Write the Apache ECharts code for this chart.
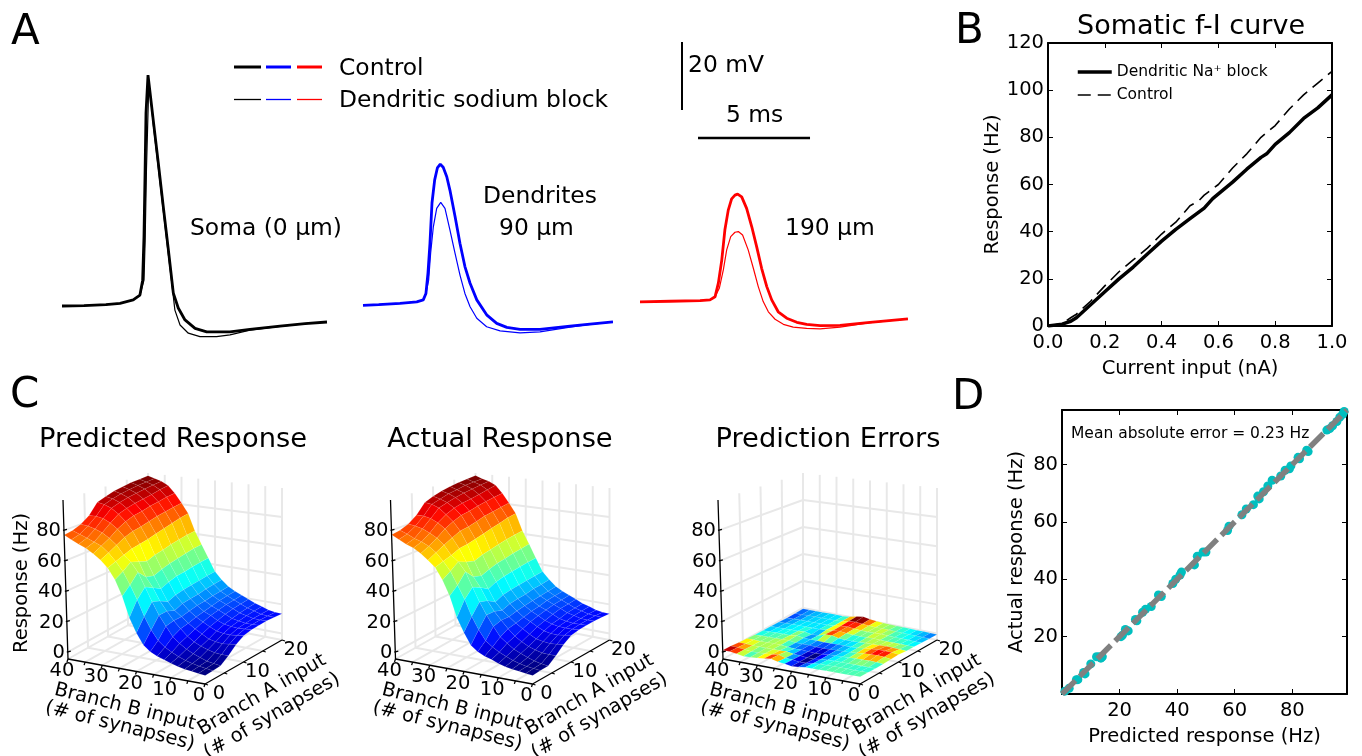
<!DOCTYPE html>
<html>
<head>
<meta charset="utf-8">
<script src="https://cdn.jsdelivr.net/npm/echarts@6/dist/echarts.min.js"></script>
<style>
  html, body { margin: 0; background: #fff; }
  #chart { width: 1362px; height: 756px; }
</style>
</head>
<body>
<div id="chart"></div>
<script>
// panel A traces: [ms, mV]
const somaControl = [[0,-65],[0.98,-64.9],[1.96,-64.6],[2.59,-64.2],[3.18,-63.2],[3.48,-61.8],[3.6,-57.4],[3.66,-44.6],[3.71,-25],[3.75,-8.2],[3.84,2.9],[3.93,-2.2],[4.08,-10.7],[4.3,-23],[4.52,-35.7],[4.74,-48],[4.97,-61.2],[5.19,-65.6],[5.49,-69.1],[5.94,-71.6],[6.46,-72.6],[7.5,-72.6],[8.39,-71.9],[9.73,-70.9],[10.85,-70.2],[11.83,-69.7]]
const somaBlock = [[0,-65],[0.98,-64.9],[1.96,-64.6],[2.59,-64.2],[3.18,-63.2],[3.48,-61.8],[3.66,-57.4],[3.71,-46],[3.77,-25],[3.87,-0.9],[3.96,-4],[4.08,-12],[4.3,-24.5],[4.52,-37],[4.74,-49.5],[4.9,-58.2],[5.04,-66.2],[5.27,-70.6],[5.64,-73],[6.16,-74],[6.9,-74],[7.5,-73.5],[8.39,-72.1],[9.73,-71],[10.85,-70.2],[11.83,-69.7]]
const dend90Control = [[0,-64.8],[0.7,-64.6],[1.65,-64.2],[2.4,-63.8],[2.69,-63.2],[2.81,-61.3],[2.9,-55.3],[2.99,-46.5],[3.08,-34.7],[3.2,-27.9],[3.32,-24.4],[3.45,-23.3],[3.58,-24.2],[3.74,-27],[3.88,-30.9],[4.11,-38.7],[4.33,-46.6],[4.55,-53.4],[4.78,-58.3],[5.08,-63.2],[5.52,-67.6],[5.97,-70.1],[6.42,-71.3],[7.01,-71.9],[7.9,-71.9],[9.24,-70.9],[10.13,-70.3],[11.16,-69.7]]
const dend90Block = [[0,-64.8],[0.7,-64.6],[1.65,-64.2],[2.4,-63.8],[2.69,-63.2],[2.81,-61.3],[2.93,-57.4],[3.02,-49.4],[3.14,-41.7],[3.29,-36.3],[3.47,-34.5],[3.66,-36.3],[3.88,-42.6],[4.11,-49.5],[4.33,-55.9],[4.55,-61.3],[4.78,-65.2],[5.08,-68.6],[5.52,-71.1],[6.12,-72.3],[7.01,-72.9],[7.9,-72.6],[9.24,-71.2],[10.13,-70.4],[11.16,-69.7]]
const dend190Control = [[0,-63.8],[1.34,-63.6],[2.68,-63.4],[3.125,-63.2],[3.35,-62.3],[3.5,-58.2],[3.65,-51.5],[3.79,-42.6],[3.94,-36.8],[4.09,-33.5],[4.24,-32.4],[4.36,-32.1],[4.54,-32.9],[4.76,-36.3],[4.99,-41.7],[5.21,-47.6],[5.43,-53.9],[5.66,-59.3],[5.88,-63.2],[6.17,-66.7],[6.55,-68.6],[7,-69.8],[7.44,-70.4],[8.04,-70.8],[8.93,-70.7],[10.27,-69.8],[11.96,-68.8]]
const dend190Block = [[0,-63.8],[1.34,-63.6],[2.68,-63.4],[3.125,-63.2],[3.35,-62.3],[3.54,-59.8],[3.72,-54.4],[3.87,-48.5],[4.05,-44.6],[4.24,-43.3],[4.39,-43.1],[4.58,-44.1],[4.83,-48.5],[5.06,-53.9],[5.28,-59.3],[5.5,-63.7],[5.73,-66.7],[6.03,-68.9],[6.4,-70.4],[6.84,-71.2],[7.44,-71.6],[8.04,-71.7],[8.93,-71.2],[10.27,-69.9],[11.96,-68.8]]
const scaleBarV = [[1.875,12.65],[1.875,-7.35]]
const scaleBarH = [[2.59,-15.6],[7.59,-15.6]]

// panel B
const fiCurrent = [0,0.05,0.08,0.1,0.15,0.2,0.25,0.3,0.35,0.4,0.45,0.5,0.55,0.58,0.6,0.65,0.7,0.75,0.77,0.8,0.85,0.9,0.95,1]
const fiBlock = [0,0.8,2,3.5,9,14.5,20,25,30.5,36,41,45.5,50,54,56,61,66.5,71.5,73,77,82,88,92.5,98]
const fiControlCurrent = [0,0.05,0.08,0.1,0.15,0.2,0.25,0.3,0.35,0.4,0.45,0.5,0.53,0.55,0.6,0.65,0.7,0.75,0.8,0.85,0.9,0.95,1]
const fiControl = [0,1,3.5,5,10.5,17,23,28,33,39,44,51,53,55.5,60,67,73,80,85,92,98,103,108]

// panel C, rows B = 40 to 0 (step 2), columns A = 0 to 20 (step 2)
const predicted = [
  [77,78,80,84,91,93,95,96,97,97.4,98],
  [74.5,76,79.5,84,90,92,93.5,94.5,95.5,96,96.5],
  [72,74,78,83,88,90,91.5,92.5,93.5,94.3,95],
  [70,72,76,80.5,84.5,86.5,88,89,90,91.5,92.5],
  [67,70,73,77,80,82,83,84.5,85.5,86.8,87.5],
  [63.5,66,69,72,74,75,76.5,78,79,80,81],
  [59,61,63,65,66,67,68.5,70,71.5,73,74],
  [52,55,59,57,55,57,58,59.5,60.5,61.5,62],
  [42,47,53,47.5,46,48,49.5,50.5,51.5,52.5,53],
  [29,38,44,41,38,40,41.5,42,43,43.5,44],
  [20,28,35,33,30,32,33,33.5,34,34.7,35],
  [13,20,27,27,25,27,27.5,28,29,29.5,30],
  [9.5,14,20.6,21.6,21.6,22.7,23.7,24.2,25,25.5,26],
  [7.5,10.5,14.5,17,18,19.5,20.5,21.5,22.5,23,23.5],
  [6,8,11,13,15,17,18.5,19.5,20.5,21,21.5],
  [4.5,6,8,10,12.5,14.5,16,17.5,18.5,19,19.5],
  [3.3,4.4,6,8,10,12.5,14.3,15.4,16.4,17,17.5],
  [2.3,3.2,4.3,6.5,9,11.7,13.5,14.5,15.3,15.8,16],
  [1.8,2.3,2.8,5.4,8.5,11.5,13.2,13.8,14.3,14.4,14.5],
  [1.2,1.6,2,5,9,12,13.5,13.8,14,14,13.8],
  [0.7,1,1.4,5,9.6,12.7,13.8,14,14.3,14,13.5]
]
const actual = [
  [77.2,78.1,80.3,84.2,90.8,93.2,95,96.2,97.1,97.5,98.2],
  [74.6,76.1,79.4,84.2,90.1,91.8,93.6,94.4,95.6,96,96.4],
  [72.1,73.8,78.2,83,88.2,89.9,91.5,92.6,93.4,94.4,95],
  [70.2,72.1,75.8,80.6,84.3,86.7,88.1,89,90.1,91.4,92.6],
  [67.2,69.8,73.1,77.2,80,82.2,83.1,84.5,85.6,86.7,87.4],
  [63.4,66.2,69.1,71.8,74.2,75,76.4,78.1,79,80.1,81],
  [59.2,61.1,62.8,65.2,65.9,67.2,68.5,70.1,71.4,73.1,74],
  [51.8,55.2,59.2,56.8,55.1,57.1,58.2,59.4,60.6,61.4,62.1],
  [42.2,46.8,53.3,47.6,45.9,47.9,49.6,50.4,51.6,52.4,53.2],
  [29.1,38.2,43.8,41.2,37.8,40.1,41.4,42.1,42.9,43.6,44],
  [20.2,27.9,34.8,33.2,29.8,32.1,33,33.6,34,34.6,35.1],
  [12.9,20.1,27.2,26.9,25.1,26.9,27.6,28,29.1,29.4,30.1],
  [9.6,13.9,20.4,21.8,21.5,22.8,23.6,24.3,24.9,25.5,26.1],
  [7.4,10.6,14.4,17.1,18.1,19.4,20.6,21.4,22.6,23,23.4],
  [6.1,8.1,11.1,13,15.1,17.1,18.4,19.6,20.5,21,21.5],
  [4.4,6.1,8,10.1,12.4,14.6,16,17.4,18.6,19,19.4],
  [3.2,4.4,6.1,7.9,10.1,12.6,14.4,15.3,16.5,17,17.4],
  [2.4,3.1,4.4,6.4,9.1,11.6,13.6,14.4,15.4,15.8,16.1],
  [1.9,2.2,2.9,5.3,8.6,11.4,13.3,13.8,14.2,14.5,14.4],
  [1.2,1.7,1.9,5.1,8.9,12.1,13.4,13.9,14,14.1,13.7],
  [0.7,1.1,1.3,5.1,9.5,12.8,13.7,14.1,14.2,14,13.6]
]
// errors (Hz), same grid
const errors = [
  [1.2,1.1,0.5,0.2,-0.2,-0.4,-0.5,-0.6,-0.8,-0.8,-0.6],
  [1.3,1,0.6,0.2,-0.1,-0.3,-0.5,-0.5,-0.7,-0.8,-0.6],
  [0.6,0.5,0.2,0.1,-0.1,-0.2,-0.4,-0.4,-0.5,-0.5,-0.5],
  [-0.2,-0.1,0.1,0.1,0,-0.2,-0.3,-0.3,-0.4,-0.5,-0.5],
  [-0.1,-0.1,0.1,0.2,0.1,-0.2,-0.3,-0.4,-0.4,-0.4,-0.4],
  [0.2,0.2,0.2,0.1,0.2,0.5,0.1,-0.3,-0.4,-0.4,-0.4],
  [0.6,0.4,0.2,-0.4,-0.5,-0.3,-0.9,-0.4,-0.4,-0.3,-0.4],
  [1.3,1,0.3,-0.8,-0.6,-0.4,-0.7,0.1,-0.1,0,0],
  [0.1,-0.3,-0.6,-0.7,-0.6,-0.5,0.8,0.6,0.7,0.9,1.2],
  [-0.4,-0.6,-0.8,-1,-0.9,-0.6,1,0.9,1,1.3,1.9],
  [-1.2,-1.3,-1.4,-1.3,-1,-0.6,-0.1,0.3,0.5,0.8,1.1],
  [-0.9,-1.1,-1.3,-1.2,-0.9,-0.5,-0.3,0,0.2,0.4,0.5],
  [-0.3,-0.6,-0.7,-0.7,-0.6,-0.5,-0.4,-0.2,0,0.1,0.2],
  [-0.2,-0.2,-0.4,-0.5,-0.5,-0.4,-0.2,0,0.2,0.2,0],
  [-0.2,-0.2,-0.2,-0.3,-0.3,-0.2,0.1,0.3,0.3,0.1,-0.1],
  [-0.1,-0.1,-0.2,-0.2,0.1,0.3,0.2,0,0,-0.1,-0.2],
  [-0.1,-0.1,-0.2,0.1,0.6,0.7,0.3,0,-0.2,-0.2,-0.3],
  [-0.1,-0.1,-0.2,0.2,0.8,1,0.5,-0.1,-0.2,-0.3,-0.4],
  [-0.1,-0.2,-0.2,0.3,1,1.1,0.3,-0.1,-0.3,-0.4,-0.5],
  [-0.1,-0.1,-0.3,0.1,0.7,0.9,0.1,-0.2,-0.4,-0.5,-0.6],
  [-0.1,-0.1,-0.3,-0.2,0.1,0.3,-0.1,-0.3,-0.4,-0.6,-0.8]
]
const zTicks = [0,20,40,60,80]
const bTicks = [0,10,20,30,40]
const aTicks = [0,10,20]

// panel D: [predicted, actual]
const scatterPoints = [[1,1],[2.5,2],[5,5],[5.5,5],[7.5,7.5],[8,7],[10,10.5],[12,13],[13,13],[13.5,12.5],[14,13],[20.5,20],[21,20.5],[22,22.5],[23,22],[25.5,26],[26,25.5],[28,28.5],[29,29.5],[31,30.5],[33.5,34.5],[34.5,34],[38.5,38.5],[39.5,40],[41,41.5],[41.5,42.5],[46,45],[47,48],[49,49.5],[50,49.5],[57.5,57],[58,58.5],[62.5,62.5],[64,64.5],[66.5,66],[68,69],[68.5,68],[70,70.5],[71.5,72.5],[73,74.5],[76,76],[77.5,78],[79,78.5],[79.5,79.5],[82,82.5],[82.5,82],[85,85],[85.5,84.5],[92,92],[93,92.5],[94,93.5],[95.5,95],[96.5,96.5],[97.5,97.5],[98,98.5]]
const identityLine = [[0,0],[99,99]]

const font = '"DejaVu Sans"'
const pxPerMs = 22.4
const axisFont = 19.5

// 3d box of the first C panel, other panels are shifted in x
const floorBox = { L: [68,659], F: [205,684], R: [282,640], K: [148,614] }
const topBox = { L: [63,500], F: [209,514], R: [282,488], K: [148,473] }
const zMin = -4.5
const zMax = 100

function bilinear (box, u, v) {
  const x = (1 - u) * (1 - v) * box.L[0] + u * (1 - v) * box.F[0] + u * v * box.R[0] + (1 - u) * v * box.K[0]
  const y = (1 - u) * (1 - v) * box.L[1] + u * (1 - v) * box.F[1] + u * v * box.R[1] + (1 - u) * v * box.K[1]
  return [x, y]
}

// u: 0 at B = 40, 1 at B = 0. v: 0 at A = 0, 1 at A = 20
function project (u, v, z, dx) {
  const f = bilinear(floorBox, u, v)
  const t = bilinear(topBox, u, v)
  const k = (z - zMin) / (zMax - zMin)
  return [f[0] + (t[0] - f[0]) * k + dx, f[1] + (t[1] - f[1]) * k]
}

function jet (t) {
  const c = (x) => Math.round(255 * Math.max(0, Math.min(1, 1.5 - Math.abs(4 * t - x))))
  return 'rgb(' + c(3) + ',' + c(2) + ',' + c(1) + ')'
}

function surfaceSeries (table, dx) {
  const nu = table.length - 1
  const nv = table[0].length - 1
  const cells = []
  const means = []
  // back to front
  for (let i = 0; i < nu; i += 1) {
    for (let j = nv - 1; j >= 0; j -= 1) {
      cells.push([i, j])
      means.push((table[i][j] + table[i + 1][j] + table[i + 1][j + 1] + table[i][j + 1]) / 4)
    }
  }
  const lo = Math.min(...means)
  const hi = Math.max(...means)
  return {
    type: 'custom',
    coordinateSystem: 'none',
    z: 3,
    silent: true,
    data: cells,
    renderItem (params, api) {
      const i = api.value(0)
      const j = api.value(1)
      const corners = [[i, j], [i + 1, j], [i + 1, j + 1], [i, j + 1]]
      return {
        type: 'polygon',
        shape: { points: corners.map(c => project(c[0] / nu, c[1] / nv, table[c[0]][c[1]], dx)) },
        style: { fill: jet((means[params.dataIndex] - lo) / (hi - lo)), stroke: 'rgba(255,255,255,0.12)', lineWidth: 0.6 }
      }
    }
  }
}

function segmentSeries (segments, color, width, z) {
  return {
    type: 'custom',
    coordinateSystem: 'none',
    z,
    silent: true,
    data: segments,
    renderItem (params, api) {
      return {
        type: 'line',
        shape: { x1: api.value(0), y1: api.value(1), x2: api.value(2), y2: api.value(3) },
        style: { stroke: color, lineWidth: width }
      }
    }
  }
}

function seg (a, b) { return [a[0], a[1], b[0], b[1]] }

function wallSegments (dx) {
  const s = []
  for (const z of zTicks) {
    s.push(seg(project(0, 0, z, dx), project(0, 1, z, dx)))
    s.push(seg(project(0, 1, z, dx), project(1, 1, z, dx)))
  }
  for (let v = 0.25; v <= 1; v += 0.25) {
    s.push(seg(project(0, v, zMin, dx), project(0, v, zMax, dx)))
    if (v < 1) s.push(seg(project(0, v, zMin, dx), project(1, v, zMin, dx)))
  }
  for (let u = 0.125; u <= 1; u += 0.125) {
    s.push(seg(project(u, 1, zMin, dx), project(u, 1, zMax, dx)))
    if (u < 1) s.push(seg(project(u, 0, zMin, dx), project(u, 1, zMin, dx)))
  }
  s.push(seg(project(0, 0, zMin, dx), project(0, 1, zMin, dx)))
  s.push(seg(project(0, 1, zMin, dx), project(1, 1, zMin, dx)))
  return s
}

function axisSegments (dx) {
  const s = []
  s.push(seg(project(0, 0, zMin, dx), project(0, 0, zMax, dx)))
  s.push(seg(project(0, 0, zMin, dx), project(1, 0, zMin, dx)))
  s.push(seg(project(1, 0, zMin, dx), project(1, 1, zMin, dx)))
  for (const z of zTicks) {
    const p = project(0, 0, z, dx)
    s.push(seg([p[0] - 1, p[1]], [p[0] + 3, p[1] - 1]))
  }
  for (let u = 0; u <= 1.001; u += 0.125) {
    const p = project(u, 0, zMin, dx)
    s.push(seg([p[0], p[1]], [p[0] - 1, p[1] + 3]))
  }
  for (let v = 0; v <= 1.001; v += 0.25) {
    const p = project(1, v, zMin, dx)
    s.push(seg([p[0], p[1]], [p[0] + 3, p[1] + 1]))
  }
  return s
}

function label (text, x, y, size, extra) {
  return {
    type: 'text',
    x,
    y,
    rotation: (extra && extra.rotation) || 0,
    z: 10,
    silent: true,
    style: {
      text,
      font: size + 'px ' + font,
      fill: '#000',
      align: (extra && extra.align) || 'left',
      verticalAlign: 'middle'
    }
  }
}

function deg (d) { return d * Math.PI / 180 }

function panelLabels (dx, title, titleX) {
  const out = [label(title, titleX, 440, 27.3, { align: 'center' })]
  for (const z of zTicks) {
    const p = project(0, 0, z, dx)
    out.push(label(String(z), p[0] - 3, p[1] + 1, axisFont, { align: 'right' }))
  }
  for (const b of bTicks) {
    const p = project((40 - b) / 40, 0, zMin, dx)
    out.push(label(String(b), p[0] - 6, p[1] + 12, axisFont, { align: 'center' }))
  }
  for (const a of aTicks) {
    const p = project(1, a / 20, zMin, dx)
    out.push(label(String(a), p[0] + 14, p[1] + 10, axisFont, { align: 'center' }))
  }
  out.push(label('Branch B input', 125 + dx, 707, axisFont, { align: 'center', rotation: deg(-14) }))
  out.push(label('(# of synapses)', 120 + dx, 726, axisFont, { align: 'center', rotation: deg(-14) }))
  out.push(label('Branch A input', 262 + dx, 695, axisFont, { align: 'center', rotation: deg(30) }))
  out.push(label('(# of synapses)', 272 + dx, 716, axisFont, { align: 'center', rotation: deg(30) }))
  return out
}

function keyLine (x1, x2, y, color, width) {
  return {
    type: 'line',
    z: 10,
    silent: true,
    shape: { x1, y1: y, x2, y2: y },
    style: { stroke: color, lineWidth: width }
  }
}

function traceSeries (points, color, width, gridIdx) {
  return {
    type: 'line',
    data: points,
    xAxisIndex: gridIdx,
    yAxisIndex: gridIdx,
    symbol: 'none',
    lineStyle: { color, width },
    z: width > 2 ? 3 : 2
  }
}

function hiddenAxes (gridIdx, width) {
  return {
    x: { type: 'value', gridIndex: gridIdx, min: 0, max: width / pxPerMs, show: false },
    y: { type: 'value', gridIndex: gridIdx, min: 25 - 350 / 3.4, max: 25, show: false }
  }
}

function boxedAxes (gridIdx, xr, yr, xInterval, yInterval, xName, yName, xFmt, yFmt, nameGaps) {
  const tick = { show: true, inside: true, length: 5, lineStyle: { color: '#000', width: 1 } }
  const line = { show: true, lineStyle: { color: '#000', width: 2 } }
  const labelStyle = { color: '#000', fontFamily: font, fontSize: axisFont, margin: 4 }
  const nameStyle = { color: '#000', fontFamily: font, fontSize: axisFont }
  const base = { type: 'value', gridIndex: gridIdx, splitLine: { show: false }, axisTick: tick, axisLine: { ...line, onZero: false } }
  return {
    x: [
      { ...base, min: xr[0], max: xr[1], interval: xInterval, position: 'bottom', name: xName, nameLocation: 'middle', nameGap: nameGaps[0], nameTextStyle: nameStyle, axisLabel: { ...labelStyle, margin: 7, formatter: xFmt, showMinLabel: true, showMaxLabel: true } },
      { ...base, min: xr[0], max: xr[1], interval: xInterval, position: 'top', axisLabel: { show: false } }
    ],
    y: [
      { ...base, min: yr[0], max: yr[1], interval: yInterval, position: 'left', name: yName, nameLocation: 'middle', nameGap: nameGaps[1], nameTextStyle: nameStyle, axisLabel: { ...labelStyle, formatter: yFmt } },
      { ...base, min: yr[0], max: yr[1], interval: yInterval, position: 'right', axisLabel: { show: false } }
    ]
  }
}

const grids = [
  { left: 62, top: 0, width: 270, height: 350 },
  { left: 363, top: 0, width: 255, height: 350 },
  { left: 640, top: 0, width: 275, height: 350 },
  { left: 1048, top: 43, width: 284, height: 283 },
  { left: 1062, top: 410, width: 285, height: 284 }
]

const a0 = hiddenAxes(0, 270)
const a1 = hiddenAxes(1, 255)
const a2 = hiddenAxes(2, 275)
const tensOnly = (v) => (v === 0 || v === 99 ? '' : String(v))
const fiAxes = boxedAxes(3, [0, 1], [0, 120], 0.2, 20, 'Current input (nA)', 'Response (Hz)', (v) => v.toFixed(1), (v) => String(v), [33, 45])
const scAxes = boxedAxes(4, [0, 99], [0, 99], 20, 20, 'Predicted response (Hz)', 'Actual response (Hz)', tensOnly, tensOnly, [33, 35])

const panelShift = [0, 327.5, 655]

const chart = echarts.init(document.getElementById('chart'), null, { renderer: 'canvas' })
chart.setOption({
  animation: false,
  backgroundColor: '#fff',
  textStyle: { fontFamily: font },
  grid: grids,
  xAxis: [a0.x, a1.x, a2.x, ...fiAxes.x, ...scAxes.x],
  yAxis: [a0.y, a1.y, a2.y, ...fiAxes.y, ...scAxes.y],
  legend: {
    data: ['Dendritic Na⁺ block', 'Control'],
    left: 1071,
    top: 59,
    orient: 'vertical',
    itemWidth: 34,
    itemHeight: 14,
    itemGap: 7,
    itemStyle: { opacity: 0 },
    lineStyle: { width: 'inherit' },
    textStyle: { fontFamily: font, fontSize: 15.5, color: '#000' }
  },
  series: [
    traceSeries(somaBlock, '#000', 1.2, 0),
    traceSeries(somaControl, '#000', 2.8, 0),
    traceSeries(dend90Block, '#0000ff', 1.2, 1),
    traceSeries(dend90Control, '#0000ff', 2.8, 1),
    traceSeries(dend190Block, '#ff0000', 1.2, 2),
    traceSeries(dend190Control, '#ff0000', 2.8, 2),
    traceSeries(scaleBarV, '#000', 2, 2),
    traceSeries(scaleBarH, '#000', 2.6, 2),
    {
      name: 'Dendritic Na⁺ block',
      type: 'line',
      data: fiCurrent.map((x, i) => [x, fiBlock[i]]),
      xAxisIndex: 3,
      yAxisIndex: 3,
      symbol: 'none',
      lineStyle: { color: '#000', width: 3.5 },
      itemStyle: { color: '#000' }
    },
    {
      name: 'Control',
      type: 'line',
      data: fiControlCurrent.map((x, i) => [x, fiControl[i]]),
      xAxisIndex: 3,
      yAxisIndex: 3,
      symbol: 'none',
      lineStyle: { color: '#000', width: 1.6, type: [13, 7] },
      itemStyle: { color: '#000' }
    },
    {
      type: 'scatter',
      data: scatterPoints,
      xAxisIndex: 5,
      yAxisIndex: 5,
      symbolSize: 9,
      itemStyle: { color: '#00bfbf', opacity: 1 }
    },
    {
      type: 'line',
      data: identityLine,
      xAxisIndex: 5,
      yAxisIndex: 5,
      symbol: 'none',
      lineStyle: { color: '#808080', width: 5.5, type: [19, 6] },
      z: 4
    },
    ...panelShift.map(dx => segmentSeries(wallSegments(dx), '#e8e8e8', 2, 1)),
    surfaceSeries(predicted, panelShift[0]),
    surfaceSeries(actual, panelShift[1]),
    surfaceSeries(errors, panelShift[2]),
    ...panelShift.map(dx => segmentSeries(axisSegments(dx), '#000', 1.3, 5))
  ],
  graphic: [
    label('A', 11, 33, 42),
    label('B', 955, 32, 42),
    label('C', 10, 396, 42),
    label('D', 952, 398, 42),
    keyLine(234, 261, 67, '#000', 3),
    keyLine(266, 291, 67, '#0000ff', 3),
    keyLine(297, 322, 67, '#ff0000', 3),
    keyLine(234, 261, 99.5, '#000', 1.3),
    keyLine(266, 291, 99.5, '#0000ff', 1.3),
    keyLine(297, 322, 99.5, '#ff0000', 1.3),
    label('Control', 339, 69, 23.4),
    label('Dendritic sodium block', 339, 101, 23.4),
    label('20 mV', 688, 66, 23.4),
    label('5 ms', 726, 116, 23.4),
    label('Soma (0 µm)', 190, 229, 23.4),
    label('Dendrites', 483, 197, 23.4),
    label('90 µm', 499, 229, 23.4),
    label('190 µm', 785, 229, 23.4),
    label('Somatic f-I curve', 1191, 27, 27, { align: 'center' }),
    label('Response (Hz)', 22, 583, axisFont, { align: 'center', rotation: deg(90) }),
    label('Mean absolute error = 0.23 Hz', 1071, 434, 15.5),
    ...panelLabels(panelShift[0], 'Predicted Response', 173),
    ...panelLabels(panelShift[1], 'Actual Response', 500),
    ...panelLabels(panelShift[2], 'Prediction Errors', 828)
  ]
})
</script>
</body>
</html>
